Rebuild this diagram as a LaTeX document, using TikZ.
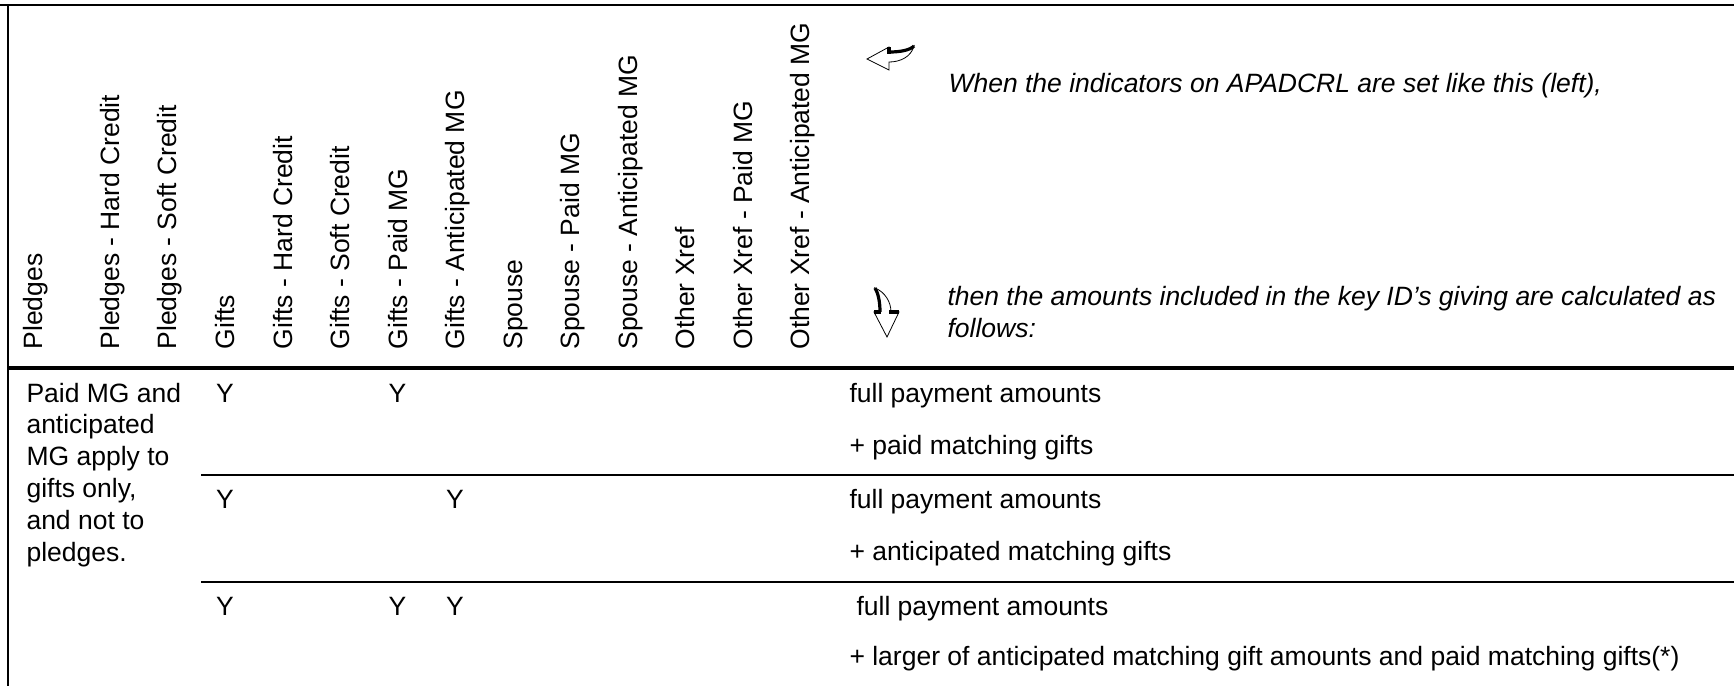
\documentclass[tikz,border=0pt]{standalone}
\usepackage{fontspec}
\setmainfont{Liberation Sans}

\begin{document}
\begin{tikzpicture}
  [x=0.3774pt,y=-0.3774pt,
   every node/.style={inner sep=0pt,font=\fontsize{10}{12}\selectfont},
   head/.style={rotate=90,anchor=base west},
   cell/.style={anchor=base west},
   yes/.style={anchor=base},
   note/.style={anchor=base west,font=\fontsize{10}{12}\selectfont\itshape},
   curl/.style={fill=white,draw=black,line width=0.3pt},
   shade/.style={line width=1.2pt}]
  \useasboundingbox (0,0) rectangle (1734,686);

  % frame and rules
  \draw[line width=0.75pt] (0,5) -- (1734,5);
  \draw[line width=0.75pt] (8,5) -- (8,686);
  \draw[line width=1.3pt] (8,368) -- (1734,368);
  \draw[line width=0.75pt] (201,475) -- (1734,475);
  \draw[line width=0.75pt] (201,582) -- (1734,582);

  % column headers
  \foreach \x/\txt [count=\i] in {42.5/Pledges, 119.5/Pledges - Hard Credit,
      176.5/Pledges - Soft Credit, 234.5/Gifts, 292/Gifts - Hard Credit,
      349.5/Gifts - Soft Credit, 407/Gifts - Paid MG, 464.5/Gifts - Anticipated MG,
      522/Spouse, 579.5/Spouse - Paid MG, 637/Spouse - Anticipated MG,
      694.5/Other Xref, 752/Other Xref - Paid MG, 809.5/Other Xref - Anticipated MG}
    \node[head] (h\i) at (\x,350) {\txt};

  % arrows and notes
  \draw[curl] (867,59) -- (889,47) -- (889,52)
    .. controls (901,52) and (910,50) .. (914,46)
    .. controls (911,57) and (900,62) .. (889,62) -- (889,70) -- cycle;
  \draw[shade] (889,47) -- (889,54);
  \draw[shade] (889,52) .. controls (901,52) and (910,50) .. (914,46);
  \draw[curl] (887,337) -- (874,312) -- (880,312)
    .. controls (880,301) and (878,293) .. (875,288)
    .. controls (885,292) and (891,302) .. (891,312) -- (899,312) -- cycle;
  \draw[shade] (874,312) -- (881,312) (889,312) -- (899,312);
  \draw[shade] (880,312) .. controls (880,301) and (878,293) .. (875,288);
  \node[note] (when) at (948,92) {When the indicators on APADCRL are set like this (left),};
  \node[note] (then) at (947,305) {then the amounts included in the key ID’s giving are calculated as};
  \node[note] (follows) at (947,337) {follows:};

  % rows
  \node[cell,align=left] (scope) at (26,561)
    {Paid MG and\\anticipated\\MG apply to\\gifts only,\\and not to\\pledges.};
  \foreach \x/\y [count=\i] in {225/402, 397.5/402, 225/508, 455/508,
      225/615, 397.5/615, 455/615}
    \node[yes] (y\i) at (\x,\y) {Y};

  \node[cell] (r1a) at (849,402) {full payment amounts};
  \node[cell] (r1b) at (849,454) {+ paid matching gifts};
  \node[cell] (r2a) at (849,508) {full payment amounts};
  \node[cell] (r2b) at (849,560) {+ anticipated matching gifts};
  \node[cell] (r3a) at (856,615) {full payment amounts};
  \node[cell] (r3b) at (849,665) {+ larger of anticipated matching gift amounts and paid matching gifts(*)};
\end{tikzpicture}
\end{document}
